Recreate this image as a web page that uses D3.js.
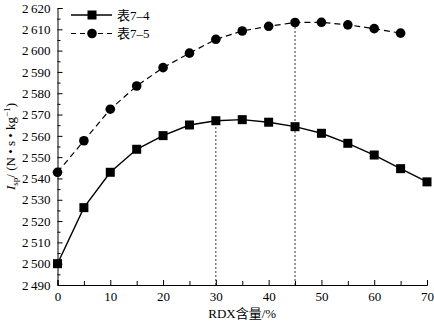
<!DOCTYPE html>
<html>
<head>
<meta charset="utf-8">
<script src="https://cdn.jsdelivr.net/npm/d3@7/dist/d3.min.js"></script>
<style>
  html, body { margin: 0; padding: 0; background: #fff; }
  svg { display: block; }
  svg text { font-family: "Liberation Serif", "Times New Roman", "DejaVu Serif", "Noto Sans CJK SC", serif; }
</style>
</head>
<body>
<svg id="chart" width="434" height="322"></svg>
<script>
// RDX content (%)
const rdx74 = [0, 5, 10, 15, 20, 25, 30, 35, 40, 45, 50, 55, 60, 65, 70];
const isp74 = [2500, 2526.3, 2542.9, 2553.7, 2560.1, 2565.1, 2567.1, 2567.6, 2566.4, 2564.3, 2561.2, 2556.5, 2551, 2544.6, 2538.4];
const rdx75 = [0, 5, 10, 15, 20, 25, 30, 35, 40, 45, 50, 55, 60, 65];
const isp75 = [2542.9, 2557.7, 2572.5, 2583.4, 2592, 2598.8, 2605.3, 2609.2, 2611.4, 2613.2, 2613.3, 2612.1, 2610.3, 2608.2];
const seriesNames = ["表7–4", "表7–5"];
const xTicks = [0, 10, 20, 30, 40, 50, 60, 70];
const xMinor = [5, 15, 25, 35, 45, 55, 65];
const yTicks = [2490, 2500, 2510, 2520, 2530, 2540, 2550, 2560, 2570, 2580, 2590, 2600, 2610, 2620];
const yMinor = [2495, 2505, 2515, 2525, 2535, 2545, 2555, 2565, 2575, 2585, 2595, 2605, 2615];
// guide lines: [x of the guide, series index it rises to]
const guides = [[30, 0], [45, 1]];

const svg = d3.select("#chart");
const m = { left: 57.5, right: 427, top: 8, bottom: 285 };

const x = d3.scaleLinear().domain([0, 70]).range([m.left, m.right]);
const y = d3.scaleLinear().domain([2490, 2620]).range([m.bottom, m.top]);

const fmtY = v => `${Math.floor(v / 1000)}\u2009${String(v % 1000).padStart(3, "0")}`;

// x axis (ticks pointing inward)
const gx = svg.append("g").attr("transform", `translate(0,${m.bottom})`);
gx.call(d3.axisBottom(x).tickValues(xTicks).tickSize(-5).tickPadding(7).tickFormat(d3.format("d")));
gx.append("g").call(d3.axisBottom(x).tickValues(xMinor).tickSize(-4).tickFormat(""))
  .select(".domain").remove();

// y axis
const gy = svg.append("g").attr("transform", `translate(${m.left},0)`);
gy.call(d3.axisLeft(y).tickValues(yTicks).tickSize(-5).tickPadding(7).tickFormat(fmtY));
gy.append("g").call(d3.axisLeft(y).tickValues(yMinor).tickSize(-3).tickFormat(""))
  .select(".domain").remove();

svg.selectAll(".domain").attr("stroke", "#000").attr("stroke-width", 1);
svg.selectAll(".tick line").attr("stroke", "#000").attr("stroke-width", 1);
svg.selectAll(".tick text").attr("font-size", 13).attr("fill", "#000").attr("font-family", null);

// dashed guides
const seriesVals = [isp74, isp75];
const seriesX = [rdx74, rdx75];
guides.forEach(([gxv, si]) => {
  const idx = seriesX[si].indexOf(gxv);
  svg.append("line")
    .attr("x1", x(gxv)).attr("x2", x(gxv))
    .attr("y1", y(2490)).attr("y2", y(seriesVals[si][idx]))
    .attr("stroke", "#000").attr("stroke-width", 0.8)
    .attr("stroke-dasharray", "2,2");
});

const line = d3.line().x(d => x(d[0])).y(d => y(d[1]));
const d74 = rdx74.map((v, i) => [v, isp74[i]]);
const d75 = rdx75.map((v, i) => [v, isp75[i]]);

svg.append("path").datum(d74).attr("d", line)
  .attr("fill", "none").attr("stroke", "#000").attr("stroke-width", 1.4);
svg.append("path").datum(d75).attr("d", line)
  .attr("fill", "none").attr("stroke", "#000").attr("stroke-width", 1.2)
  .attr("stroke-dasharray", "6,4");

const sq = 9;
svg.append("g").selectAll("rect").data(d74).join("rect")
  .attr("x", d => x(d[0]) - sq / 2).attr("y", d => y(d[1]) - sq / 2)
  .attr("width", sq).attr("height", sq).attr("fill", "#000");
svg.append("g").selectAll("circle").data(d75).join("circle")
  .attr("cx", d => x(d[0])).attr("cy", d => y(d[1])).attr("r", 4.8).attr("fill", "#000");

// legend
const lg = svg.append("g");
[0, 1].forEach(i => {
  const ly = 15 + i * 18.5;
  lg.append("line").attr("x1", 71).attr("x2", 112).attr("y1", ly).attr("y2", ly)
    .attr("stroke", "#000").attr("stroke-width", i ? 1.2 : 1.4)
    .attr("stroke-dasharray", i ? "5,4" : null);
  if (i === 0) {
    lg.append("rect").attr("x", 92 - sq / 2).attr("y", ly - sq / 2)
      .attr("width", sq).attr("height", sq).attr("fill", "#000");
  } else {
    lg.append("circle").attr("cx", 92).attr("cy", ly).attr("r", 4.8).attr("fill", "#000");
  }
  lg.append("text").attr("x", 117).attr("y", ly + 4.5)
    .attr("font-size", 13)
    .text(seriesNames[i]);
});

// axis titles
svg.append("text").attr("x", (m.left + m.right) / 2).attr("y", 318)
  .attr("text-anchor", "middle").attr("font-size", 13)
  .text("RDX含量/%");

const yl = svg.append("text")
  .attr("transform", `translate(15,${(m.top + m.bottom) / 2}) rotate(-90)`)
  .attr("text-anchor", "middle").attr("font-size", 13);
yl.append("tspan").attr("font-style", "italic").text("I");
yl.append("tspan").attr("font-size", 9).attr("dy", 3).text("sp");
yl.append("tspan").attr("dy", -3).text("/ (N • s • kg");
yl.append("tspan").attr("font-size", 9).attr("dy", -5).text("−1");
yl.append("tspan").attr("dy", 5).text(")");
</script>
</body>
</html>
